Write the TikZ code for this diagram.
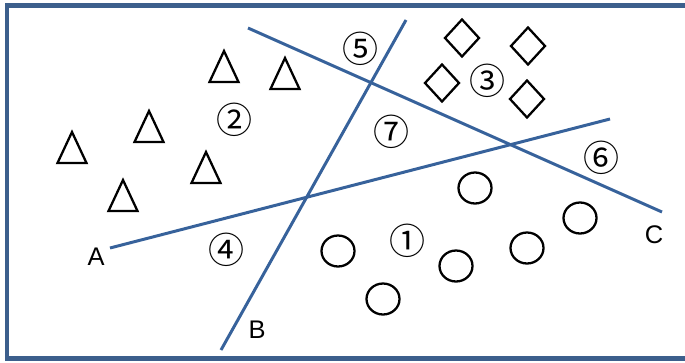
\documentclass[tikz,border=0pt]{standalone}
\usepackage{fontspec}
\setmainfont{Liberation Sans}
\newfontfamily\circfont{Noto Sans CJK SC}
\definecolor{frameblue}{RGB}{60,95,140}
\definecolor{lineblue}{RGB}{55,98,155}
\begin{document}
\begin{tikzpicture}[x=0.02cm,y=-0.02cm,
  sepline/.style={draw=lineblue,line width=1.7pt},
  shp/.style={draw=black,line width=1.3pt,line join=miter},
  circnum/.style={inner sep=0pt,font=\circfont\fontsize{20.5}{20.5}\selectfont},
  letter/.style={inner sep=0pt,font=\fontsize{14.5}{15}\selectfont}]
\useasboundingbox (0,0) rectangle (685,362);
% frame
\draw[frameblue,line width=2.5pt] (690,5.5) -- (7,5.5) -- (7,358.5) -- (690,358.5);
% end points of the three lines
\coordinate (a1) at (110,248);
\coordinate (a2) at (610,119);
\coordinate (b1) at (221,350);
\coordinate (b2) at (406,20);
\coordinate (c1) at (248,28);
\coordinate (c2) at (662,212);
\draw[sepline] (a1) -- (a2);
\draw[sepline] (b1) -- (b2);
\draw[sepline] (c1) -- (c2);
\node[letter] (la) at (96,257) {A};
\node[letter] (lb) at (257,330) {B};
\node[letter] (lc) at (654,235) {C};
% region numbers
\node[circnum] (n1) at (408,241) {①};
\node[circnum] (n2) at (235,120) {②};
\node[circnum] (n3) at (487,81) {③};
\node[circnum] (n4) at (227,250) {④};
\node[circnum] (n5) at (361,49) {⑤};
\node[circnum] (n6) at (601,158) {⑥};
\node[circnum] (n7) at (392,132) {⑦};
% triangles (apex x, apex y)
\foreach \x/\y in {224/51,285/58,149/111,72/132,206/152,123/180}
  \draw[shp] (\x,\y) -- ++(14.5,31) -- ++(-29,0) -- cycle;
% diamonds (centre)
\foreach \x/\y in {462/38,528/46,442/83,527/99}
  \draw[shp] (\x,\y-18.5) -- (\x+17,\y) -- (\x,\y+18.5) -- (\x-17,\y) -- cycle;
% circles (centre)
\foreach \x/\y in {475/188,580/218,527/248,456/266,338/251,383/299}
  \draw[shp] (\x,\y) ellipse [x radius=16.5,y radius=15.5];
\end{tikzpicture}
\end{document}
